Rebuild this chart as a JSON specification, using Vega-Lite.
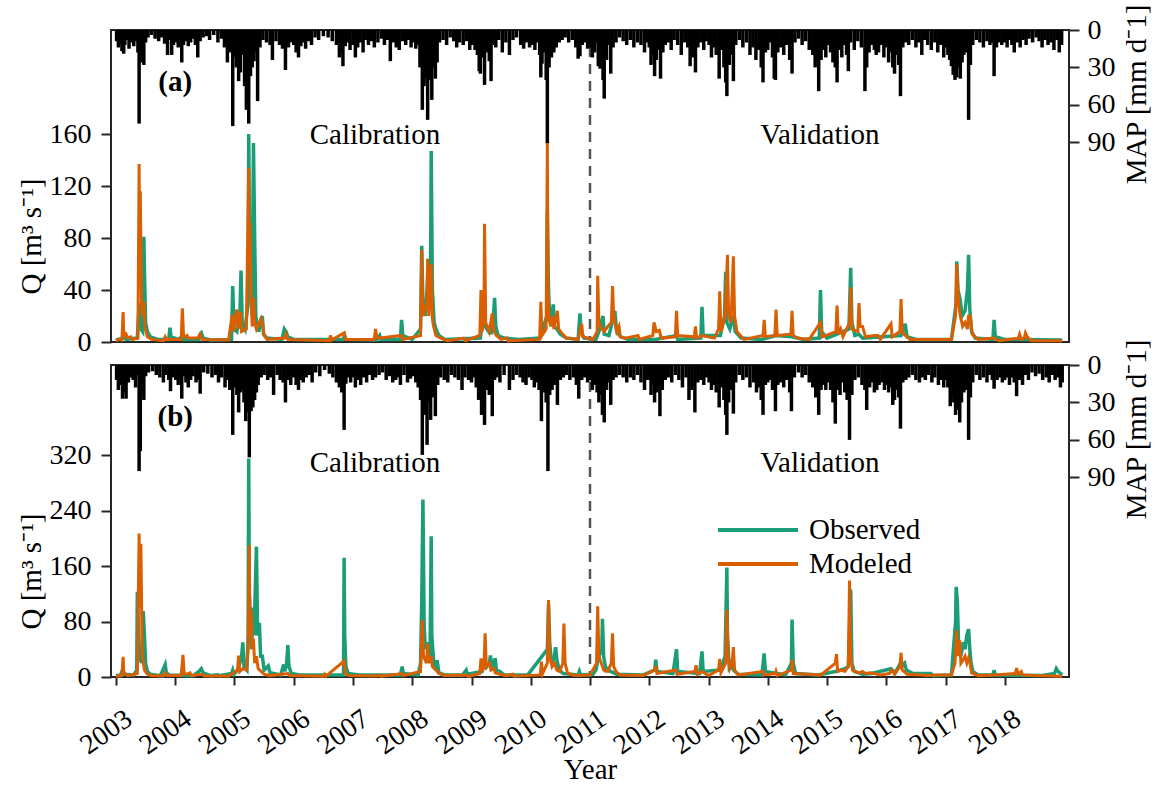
{
"$schema": "https://vega.github.io/schema/vega-lite/v6.json",
"background": "white",
"padding": {"left": 16, "top": 2, "right": 2, "bottom": 0},
"spacing": 23,
"bounds": "flush",
"config": {
 "font": "Liberation Serif",
 "view": {"stroke": "#262626", "strokeWidth": 2},
 "axis": {"labelFont": "Liberation Serif", "titleFont": "Liberation Serif", "labelFontSize": 28, "titleFontSize": 29, "labelColor": "black", "titleColor": "black", "titleFontWeight": "normal", "tickColor": "#262626", "tickWidth": 2, "domain": false, "grid": false, "labelOverlap": false, "labelFlush": false}
},
"resolve": {"scale": {"color": "independent"}, "legend": {"color": "independent"}},
"datasets": {
"pa": [
{"t":2003.01,"p":9},{"t":2003.04,"p":14},{"t":2003.07,"p":11},{"t":2003.10,"p":17},{"t":2003.13,"p":19},{"t":2003.15,"p":12},{"t":2003.18,"p":8},{"t":2003.22,"p":15},{"t":2003.26,"p":10},{"t":2003.30,"p":13},{"t":2003.33,"p":9},{"t":2003.37,"p":18},{"t":2003.39,"p":75},{"t":2003.41,"p":22},{"t":2003.44,"p":26},{"t":2003.47,"p":28},{"t":2003.50,"p":10},{"t":2003.54,"p":6},{"t":2003.60,"p":4},{"t":2003.66,"p":7},{"t":2003.72,"p":9},{"t":2003.77,"p":6},{"t":2003.82,"p":11},{"t":2003.87,"p":20},{"t":2003.91,"p":8},{"t":2003.94,"p":20},{"t":2003.97,"p":12},
{"t":2004.02,"p":10},{"t":2004.05,"p":14},{"t":2004.08,"p":8},{"t":2004.11,"p":26},{"t":2004.14,"p":12},{"t":2004.18,"p":9},{"t":2004.22,"p":13},{"t":2004.26,"p":10},{"t":2004.30,"p":7},{"t":2004.34,"p":12},{"t":2004.38,"p":22},{"t":2004.42,"p":9},{"t":2004.47,"p":6},{"t":2004.53,"p":5},{"t":2004.58,"p":8},{"t":2004.65,"p":4},{"t":2004.72,"p":10},{"t":2004.78,"p":7},{"t":2004.83,"p":14},{"t":2004.88,"p":26},{"t":2004.92,"p":18},{"t":2004.97,"p":77},
{"t":2005.00,"p":22},{"t":2005.03,"p":30},{"t":2005.07,"p":41},{"t":2005.10,"p":34},{"t":2005.13,"p":20},{"t":2005.17,"p":45},{"t":2005.20,"p":64},{"t":2005.22,"p":50},{"t":2005.24,"p":75},{"t":2005.27,"p":37},{"t":2005.30,"p":30},{"t":2005.33,"p":25},{"t":2005.36,"p":18},{"t":2005.39,"p":57},{"t":2005.43,"p":14},{"t":2005.48,"p":8},{"t":2005.54,"p":10},{"t":2005.60,"p":12},{"t":2005.64,"p":24},{"t":2005.70,"p":9},{"t":2005.76,"p":12},{"t":2005.81,"p":15},{"t":2005.86,"p":32},{"t":2005.91,"p":14},{"t":2005.95,"p":10},
{"t":2006.00,"p":12},{"t":2006.04,"p":18},{"t":2006.08,"p":22},{"t":2006.12,"p":13},{"t":2006.16,"p":10},{"t":2006.20,"p":15},{"t":2006.25,"p":9},{"t":2006.30,"p":12},{"t":2006.36,"p":6},{"t":2006.42,"p":8},{"t":2006.50,"p":5},{"t":2006.58,"p":6},{"t":2006.65,"p":9},{"t":2006.72,"p":12},{"t":2006.77,"p":22},{"t":2006.80,"p":18},{"t":2006.83,"p":29},{"t":2006.87,"p":13},{"t":2006.91,"p":10},{"t":2006.95,"p":16},
{"t":2007.00,"p":12},{"t":2007.04,"p":22},{"t":2007.08,"p":14},{"t":2007.12,"p":10},{"t":2007.17,"p":18},{"t":2007.21,"p":8},{"t":2007.26,"p":12},{"t":2007.31,"p":9},{"t":2007.36,"p":14},{"t":2007.42,"p":10},{"t":2007.48,"p":7},{"t":2007.53,"p":12},{"t":2007.58,"p":8},{"t":2007.63,"p":25},{"t":2007.68,"p":10},{"t":2007.73,"p":14},{"t":2007.78,"p":16},{"t":2007.84,"p":9},{"t":2007.89,"p":12},{"t":2007.94,"p":8},{"t":2007.98,"p":14},
{"t":2008.02,"p":10},{"t":2008.06,"p":15},{"t":2008.10,"p":12},{"t":2008.13,"p":30},{"t":2008.17,"p":64},{"t":2008.20,"p":45},{"t":2008.23,"p":38},{"t":2008.26,"p":72},{"t":2008.29,"p":40},{"t":2008.33,"p":56},{"t":2008.36,"p":30},{"t":2008.39,"p":39},{"t":2008.42,"p":26},{"t":2008.46,"p":10},{"t":2008.52,"p":8},{"t":2008.58,"p":12},{"t":2008.64,"p":6},{"t":2008.70,"p":9},{"t":2008.75,"p":14},{"t":2008.80,"p":10},{"t":2008.86,"p":12},{"t":2008.92,"p":9},{"t":2008.97,"p":16},
{"t":2009.02,"p":12},{"t":2009.06,"p":16},{"t":2009.10,"p":20},{"t":2009.13,"p":33},{"t":2009.15,"p":35},{"t":2009.19,"p":22},{"t":2009.22,"p":44},{"t":2009.26,"p":18},{"t":2009.30,"p":25},{"t":2009.33,"p":41},{"t":2009.37,"p":12},{"t":2009.41,"p":14},{"t":2009.46,"p":8},{"t":2009.52,"p":18},{"t":2009.58,"p":10},{"t":2009.64,"p":20},{"t":2009.70,"p":8},{"t":2009.76,"p":6},{"t":2009.83,"p":12},{"t":2009.88,"p":15},{"t":2009.93,"p":10},{"t":2009.98,"p":14},
{"t":2010.03,"p":12},{"t":2010.07,"p":16},{"t":2010.11,"p":10},{"t":2010.15,"p":20},{"t":2010.17,"p":38},{"t":2010.19,"p":27},{"t":2010.23,"p":18},{"t":2010.26,"p":40},{"t":2010.28,"p":91},{"t":2010.31,"p":30},{"t":2010.35,"p":22},{"t":2010.39,"p":18},{"t":2010.43,"p":14},{"t":2010.48,"p":10},{"t":2010.53,"p":8},{"t":2010.58,"p":6},{"t":2010.64,"p":10},{"t":2010.70,"p":8},{"t":2010.76,"p":14},{"t":2010.80,"p":23},{"t":2010.83,"p":21},{"t":2010.87,"p":12},{"t":2010.92,"p":10},{"t":2010.96,"p":15},
{"t":2011.01,"p":14},{"t":2011.04,"p":22},{"t":2011.08,"p":18},{"t":2011.11,"p":10},{"t":2011.14,"p":29},{"t":2011.17,"p":31},{"t":2011.20,"p":16},{"t":2011.22,"p":40},{"t":2011.24,"p":55},{"t":2011.28,"p":24},{"t":2011.31,"p":12},{"t":2011.35,"p":35},{"t":2011.39,"p":14},{"t":2011.44,"p":10},{"t":2011.50,"p":6},{"t":2011.56,"p":9},{"t":2011.62,"p":12},{"t":2011.68,"p":8},{"t":2011.74,"p":14},{"t":2011.80,"p":10},{"t":2011.86,"p":12},{"t":2011.92,"p":18},{"t":2011.96,"p":10},
{"t":2012.00,"p":14},{"t":2012.03,"p":28},{"t":2012.06,"p":20},{"t":2012.09,"p":37},{"t":2012.12,"p":24},{"t":2012.15,"p":16},{"t":2012.19,"p":39},{"t":2012.23,"p":18},{"t":2012.27,"p":12},{"t":2012.32,"p":10},{"t":2012.37,"p":16},{"t":2012.42,"p":8},{"t":2012.48,"p":12},{"t":2012.54,"p":20},{"t":2012.60,"p":10},{"t":2012.65,"p":14},{"t":2012.69,"p":29},{"t":2012.73,"p":22},{"t":2012.78,"p":34},{"t":2012.82,"p":14},{"t":2012.87,"p":10},{"t":2012.92,"p":16},{"t":2012.96,"p":9},
{"t":2013.01,"p":12},{"t":2013.05,"p":22},{"t":2013.09,"p":14},{"t":2013.13,"p":20},{"t":2013.18,"p":39},{"t":2013.22,"p":16},{"t":2013.26,"p":30},{"t":2013.29,"p":42},{"t":2013.31,"p":53},{"t":2013.35,"p":28},{"t":2013.38,"p":20},{"t":2013.42,"p":41},{"t":2013.46,"p":12},{"t":2013.52,"p":8},{"t":2013.58,"p":14},{"t":2013.64,"p":10},{"t":2013.70,"p":20},{"t":2013.75,"p":14},{"t":2013.80,"p":24},{"t":2013.85,"p":16},{"t":2013.89,"p":30},{"t":2013.92,"p":42},{"t":2013.96,"p":18},
{"t":2014.00,"p":16},{"t":2014.04,"p":10},{"t":2014.08,"p":22},{"t":2014.11,"p":39},{"t":2014.13,"p":40},{"t":2014.17,"p":18},{"t":2014.22,"p":14},{"t":2014.27,"p":20},{"t":2014.32,"p":12},{"t":2014.37,"p":24},{"t":2014.41,"p":35},{"t":2014.46,"p":10},{"t":2014.52,"p":7},{"t":2014.58,"p":12},{"t":2014.64,"p":9},{"t":2014.70,"p":16},{"t":2014.76,"p":20},{"t":2014.80,"p":30},{"t":2014.84,"p":26},{"t":2014.86,"p":49},{"t":2014.90,"p":24},{"t":2014.94,"p":16},{"t":2014.98,"p":22},
{"t":2015.02,"p":12},{"t":2015.06,"p":18},{"t":2015.10,"p":26},{"t":2015.14,"p":30},{"t":2015.17,"p":42},{"t":2015.21,"p":16},{"t":2015.25,"p":22},{"t":2015.29,"p":12},{"t":2015.33,"p":20},{"t":2015.36,"p":33},{"t":2015.40,"p":10},{"t":2015.46,"p":16},{"t":2015.52,"p":9},{"t":2015.58,"p":14},{"t":2015.64,"p":49},{"t":2015.67,"p":30},{"t":2015.71,"p":18},{"t":2015.75,"p":12},{"t":2015.80,"p":16},{"t":2015.83,"p":20},{"t":2015.87,"p":18},{"t":2015.92,"p":12},{"t":2015.96,"p":22},
{"t":2016.00,"p":14},{"t":2016.04,"p":26},{"t":2016.08,"p":18},{"t":2016.11,"p":30},{"t":2016.14,"p":35},{"t":2016.18,"p":20},{"t":2016.21,"p":28},{"t":2016.24,"p":53},{"t":2016.28,"p":14},{"t":2016.33,"p":10},{"t":2016.38,"p":12},{"t":2016.44,"p":8},{"t":2016.50,"p":14},{"t":2016.55,"p":10},{"t":2016.60,"p":20},{"t":2016.65,"p":8},{"t":2016.70,"p":12},{"t":2016.76,"p":16},{"t":2016.82,"p":10},{"t":2016.87,"p":18},{"t":2016.92,"p":12},{"t":2016.97,"p":22},
{"t":2017.01,"p":14},{"t":2017.04,"p":20},{"t":2017.07,"p":24},{"t":2017.10,"p":29},{"t":2017.13,"p":36},{"t":2017.16,"p":40},{"t":2017.19,"p":38},{"t":2017.22,"p":30},{"t":2017.25,"p":39},{"t":2017.28,"p":26},{"t":2017.31,"p":20},{"t":2017.35,"p":18},{"t":2017.39,"p":72},{"t":2017.42,"p":28},{"t":2017.46,"p":12},{"t":2017.52,"p":8},{"t":2017.58,"p":10},{"t":2017.64,"p":14},{"t":2017.70,"p":9},{"t":2017.75,"p":12},{"t":2017.79,"p":10},{"t":2017.82,"p":37},{"t":2017.86,"p":14},{"t":2017.90,"p":10},{"t":2017.95,"p":12},
{"t":2018.00,"p":10},{"t":2018.04,"p":14},{"t":2018.08,"p":8},{"t":2018.12,"p":12},{"t":2018.16,"p":18},{"t":2018.21,"p":10},{"t":2018.26,"p":14},{"t":2018.31,"p":8},{"t":2018.36,"p":12},{"t":2018.41,"p":7},{"t":2018.47,"p":10},{"t":2018.53,"p":6},{"t":2018.58,"p":9},{"t":2018.63,"p":14},{"t":2018.68,"p":8},{"t":2018.73,"p":12},{"t":2018.78,"p":10},{"t":2018.83,"p":16},{"t":2018.88,"p":8},{"t":2018.92,"p":18},{"t":2018.96,"p":12}
],
"pb": [
{"t":2003.01,"p":12},{"t":2003.04,"p":20},{"t":2003.07,"p":16},{"t":2003.11,"p":27},{"t":2003.14,"p":22},{"t":2003.17,"p":27},{"t":2003.21,"p":14},{"t":2003.25,"p":10},{"t":2003.29,"p":12},{"t":2003.33,"p":18},{"t":2003.36,"p":8},{"t":2003.39,"p":85},{"t":2003.41,"p":69},{"t":2003.44,"p":22},{"t":2003.47,"p":28},{"t":2003.50,"p":9},{"t":2003.55,"p":6},{"t":2003.62,"p":5},{"t":2003.68,"p":8},{"t":2003.74,"p":10},{"t":2003.80,"p":14},{"t":2003.85,"p":8},{"t":2003.89,"p":12},{"t":2003.92,"p":21},{"t":2003.96,"p":10},
{"t":2004.01,"p":12},{"t":2004.05,"p":16},{"t":2004.08,"p":10},{"t":2004.11,"p":27},{"t":2004.14,"p":9},{"t":2004.18,"p":14},{"t":2004.22,"p":18},{"t":2004.26,"p":12},{"t":2004.30,"p":9},{"t":2004.35,"p":14},{"t":2004.38,"p":12},{"t":2004.42,"p":23},{"t":2004.48,"p":6},{"t":2004.55,"p":7},{"t":2004.62,"p":10},{"t":2004.68,"p":8},{"t":2004.73,"p":14},{"t":2004.78,"p":10},{"t":2004.84,"p":18},{"t":2004.88,"p":12},{"t":2004.92,"p":20},{"t":2004.97,"p":56},
{"t":2005.01,"p":18},{"t":2005.04,"p":24},{"t":2005.07,"p":38},{"t":2005.10,"p":22},{"t":2005.13,"p":20},{"t":2005.16,"p":30},{"t":2005.19,"p":45},{"t":2005.22,"p":38},{"t":2005.25,"p":74},{"t":2005.28,"p":37},{"t":2005.31,"p":34},{"t":2005.34,"p":28},{"t":2005.37,"p":22},{"t":2005.40,"p":16},{"t":2005.45,"p":10},{"t":2005.50,"p":8},{"t":2005.56,"p":12},{"t":2005.61,"p":10},{"t":2005.66,"p":24},{"t":2005.72,"p":8},{"t":2005.77,"p":12},{"t":2005.82,"p":14},{"t":2005.86,"p":30},{"t":2005.91,"p":12},{"t":2005.95,"p":16},
{"t":2006.00,"p":10},{"t":2006.04,"p":16},{"t":2006.08,"p":20},{"t":2006.12,"p":12},{"t":2006.16,"p":14},{"t":2006.21,"p":10},{"t":2006.26,"p":8},{"t":2006.31,"p":14},{"t":2006.37,"p":6},{"t":2006.44,"p":9},{"t":2006.52,"p":4},{"t":2006.60,"p":7},{"t":2006.66,"p":10},{"t":2006.72,"p":14},{"t":2006.77,"p":18},{"t":2006.81,"p":22},{"t":2006.85,"p":52},{"t":2006.88,"p":15},{"t":2006.92,"p":10},{"t":2006.96,"p":14},
{"t":2007.00,"p":10},{"t":2007.04,"p":18},{"t":2007.08,"p":12},{"t":2007.13,"p":16},{"t":2007.18,"p":10},{"t":2007.23,"p":14},{"t":2007.28,"p":8},{"t":2007.33,"p":12},{"t":2007.38,"p":10},{"t":2007.44,"p":8},{"t":2007.50,"p":6},{"t":2007.56,"p":12},{"t":2007.62,"p":9},{"t":2007.67,"p":14},{"t":2007.72,"p":12},{"t":2007.76,"p":10},{"t":2007.80,"p":16},{"t":2007.86,"p":8},{"t":2007.92,"p":14},{"t":2007.97,"p":11},
{"t":2008.02,"p":9},{"t":2008.06,"p":14},{"t":2008.10,"p":18},{"t":2008.14,"p":28},{"t":2008.17,"p":72},{"t":2008.20,"p":40},{"t":2008.23,"p":36},{"t":2008.25,"p":64},{"t":2008.28,"p":30},{"t":2008.31,"p":44},{"t":2008.34,"p":26},{"t":2008.39,"p":41},{"t":2008.43,"p":16},{"t":2008.48,"p":10},{"t":2008.54,"p":12},{"t":2008.60,"p":14},{"t":2008.66,"p":8},{"t":2008.72,"p":10},{"t":2008.78,"p":12},{"t":2008.84,"p":20},{"t":2008.89,"p":10},{"t":2008.95,"p":12},
{"t":2009.00,"p":14},{"t":2009.04,"p":10},{"t":2009.08,"p":18},{"t":2009.12,"p":28},{"t":2009.17,"p":40},{"t":2009.20,"p":30},{"t":2009.22,"p":48},{"t":2009.26,"p":20},{"t":2009.30,"p":24},{"t":2009.35,"p":41},{"t":2009.39,"p":12},{"t":2009.43,"p":10},{"t":2009.48,"p":14},{"t":2009.55,"p":8},{"t":2009.64,"p":20},{"t":2009.70,"p":12},{"t":2009.76,"p":8},{"t":2009.82,"p":10},{"t":2009.87,"p":14},{"t":2009.92,"p":16},{"t":2009.97,"p":10},
{"t":2010.02,"p":12},{"t":2010.06,"p":18},{"t":2010.10,"p":14},{"t":2010.14,"p":20},{"t":2010.18,"p":45},{"t":2010.22,"p":22},{"t":2010.26,"p":30},{"t":2010.29,"p":85},{"t":2010.32,"p":24},{"t":2010.36,"p":20},{"t":2010.40,"p":16},{"t":2010.45,"p":32},{"t":2010.50,"p":12},{"t":2010.55,"p":10},{"t":2010.60,"p":8},{"t":2010.66,"p":12},{"t":2010.72,"p":10},{"t":2010.77,"p":16},{"t":2010.81,"p":27},{"t":2010.86,"p":12},{"t":2010.91,"p":10},{"t":2010.96,"p":14},
{"t":2011.01,"p":12},{"t":2011.04,"p":20},{"t":2011.08,"p":16},{"t":2011.12,"p":22},{"t":2011.15,"p":30},{"t":2011.18,"p":24},{"t":2011.21,"p":40},{"t":2011.24,"p":46},{"t":2011.28,"p":20},{"t":2011.31,"p":14},{"t":2011.35,"p":32},{"t":2011.39,"p":12},{"t":2011.44,"p":10},{"t":2011.50,"p":8},{"t":2011.56,"p":10},{"t":2011.62,"p":14},{"t":2011.68,"p":10},{"t":2011.74,"p":12},{"t":2011.80,"p":8},{"t":2011.86,"p":14},{"t":2011.92,"p":20},{"t":2011.96,"p":12},
{"t":2012.00,"p":12},{"t":2012.03,"p":24},{"t":2012.06,"p":16},{"t":2012.09,"p":30},{"t":2012.13,"p":22},{"t":2012.16,"p":18},{"t":2012.18,"p":41},{"t":2012.22,"p":20},{"t":2012.27,"p":12},{"t":2012.32,"p":10},{"t":2012.38,"p":14},{"t":2012.44,"p":8},{"t":2012.50,"p":12},{"t":2012.56,"p":18},{"t":2012.62,"p":10},{"t":2012.67,"p":28},{"t":2012.72,"p":20},{"t":2012.77,"p":38},{"t":2012.82,"p":14},{"t":2012.87,"p":12},{"t":2012.92,"p":16},{"t":2012.96,"p":10},
{"t":2013.01,"p":14},{"t":2013.05,"p":20},{"t":2013.09,"p":16},{"t":2013.13,"p":22},{"t":2013.18,"p":34},{"t":2013.22,"p":18},{"t":2013.26,"p":28},{"t":2013.29,"p":40},{"t":2013.31,"p":56},{"t":2013.34,"p":30},{"t":2013.38,"p":20},{"t":2013.42,"p":39},{"t":2013.46,"p":14},{"t":2013.52,"p":8},{"t":2013.58,"p":12},{"t":2013.64,"p":10},{"t":2013.70,"p":18},{"t":2013.76,"p":14},{"t":2013.81,"p":22},{"t":2013.86,"p":18},{"t":2013.89,"p":28},{"t":2013.92,"p":40},{"t":2013.96,"p":16},
{"t":2014.00,"p":14},{"t":2014.04,"p":12},{"t":2014.08,"p":20},{"t":2014.13,"p":37},{"t":2014.17,"p":16},{"t":2014.22,"p":14},{"t":2014.27,"p":18},{"t":2014.32,"p":12},{"t":2014.37,"p":22},{"t":2014.40,"p":37},{"t":2014.45,"p":10},{"t":2014.52,"p":6},{"t":2014.58,"p":10},{"t":2014.64,"p":8},{"t":2014.70,"p":14},{"t":2014.76,"p":18},{"t":2014.81,"p":26},{"t":2014.86,"p":40},{"t":2014.90,"p":20},{"t":2014.94,"p":16},{"t":2014.98,"p":20},
{"t":2015.02,"p":14},{"t":2015.06,"p":20},{"t":2015.10,"p":30},{"t":2015.14,"p":47},{"t":2015.18,"p":20},{"t":2015.22,"p":24},{"t":2015.26,"p":14},{"t":2015.30,"p":22},{"t":2015.34,"p":28},{"t":2015.38,"p":60},{"t":2015.42,"p":24},{"t":2015.47,"p":12},{"t":2015.53,"p":10},{"t":2015.59,"p":16},{"t":2015.64,"p":20},{"t":2015.67,"p":36},{"t":2015.72,"p":18},{"t":2015.76,"p":14},{"t":2015.80,"p":22},{"t":2015.84,"p":20},{"t":2015.88,"p":16},{"t":2015.93,"p":14},{"t":2015.97,"p":20},
{"t":2016.01,"p":16},{"t":2016.04,"p":22},{"t":2016.08,"p":18},{"t":2016.11,"p":32},{"t":2016.14,"p":28},{"t":2016.18,"p":20},{"t":2016.21,"p":26},{"t":2016.24,"p":51},{"t":2016.28,"p":14},{"t":2016.33,"p":12},{"t":2016.38,"p":10},{"t":2016.44,"p":8},{"t":2016.50,"p":12},{"t":2016.56,"p":14},{"t":2016.61,"p":10},{"t":2016.66,"p":12},{"t":2016.71,"p":8},{"t":2016.77,"p":14},{"t":2016.82,"p":10},{"t":2016.88,"p":16},{"t":2016.93,"p":12},{"t":2016.97,"p":18},
{"t":2017.01,"p":12},{"t":2017.04,"p":18},{"t":2017.08,"p":33},{"t":2017.11,"p":24},{"t":2017.14,"p":30},{"t":2017.17,"p":40},{"t":2017.20,"p":36},{"t":2017.24,"p":46},{"t":2017.27,"p":30},{"t":2017.31,"p":22},{"t":2017.35,"p":20},{"t":2017.39,"p":60},{"t":2017.42,"p":26},{"t":2017.46,"p":14},{"t":2017.52,"p":8},{"t":2017.58,"p":12},{"t":2017.64,"p":10},{"t":2017.70,"p":14},{"t":2017.75,"p":8},{"t":2017.79,"p":12},{"t":2017.82,"p":19},{"t":2017.87,"p":12},{"t":2017.92,"p":10},{"t":2017.96,"p":14},
{"t":2018.00,"p":12},{"t":2018.04,"p":10},{"t":2018.08,"p":16},{"t":2018.12,"p":10},{"t":2018.16,"p":14},{"t":2018.20,"p":25},{"t":2018.25,"p":12},{"t":2018.30,"p":16},{"t":2018.35,"p":8},{"t":2018.40,"p":12},{"t":2018.46,"p":6},{"t":2018.52,"p":9},{"t":2018.58,"p":7},{"t":2018.64,"p":12},{"t":2018.70,"p":10},{"t":2018.75,"p":14},{"t":2018.80,"p":8},{"t":2018.85,"p":12},{"t":2018.90,"p":10},{"t":2018.94,"p":18},{"t":2018.97,"p":14}
],
"oa": [
{"t":2003.00,"q":1.5},{"t":2003.12,"q":3},{"t":2003.14,"q":5},{"t":2003.17,"q":2},{"t":2003.36,"q":3},{"t":2003.38,"q":20},{"t":2003.40,"q":30},{"t":2003.42,"q":10},{"t":2003.45,"q":8},{"t":2003.46,"q":40},{"t":2003.47,"q":81},{"t":2003.48,"q":55},{"t":2003.50,"q":15},{"t":2003.53,"q":8},{"t":2003.58,"q":4},{"t":2003.70,"q":2},{"t":2003.89,"q":2},{"t":2003.91,"q":11},{"t":2003.93,"q":4},{"t":2004.05,"q":2},{"t":2004.11,"q":4},{"t":2004.13,"q":2},{"t":2004.40,"q":2},{"t":2004.42,"q":6},{"t":2004.44,"q":7},{"t":2004.47,"q":3},{"t":2004.60,"q":1.5},{"t":2004.95,"q":2},{"t":2004.97,"q":43},{"t":2004.99,"q":10},{"t":2005.04,"q":8},{"t":2005.09,"q":20},{"t":2005.11,"q":55},{"t":2005.13,"q":15},{"t":2005.18,"q":10},{"t":2005.23,"q":30},{"t":2005.24,"q":160},{"t":2005.26,"q":40},{"t":2005.28,"q":75},{"t":2005.30,"q":30},{"t":2005.32,"q":153},{"t":2005.34,"q":81},{"t":2005.36,"q":20},{"t":2005.38,"q":14},{"t":2005.41,"q":8},{"t":2005.45,"q":18},{"t":2005.47,"q":20},{"t":2005.49,"q":6},{"t":2005.55,"q":3},{"t":2005.80,"q":2},{"t":2005.84,"q":10},{"t":2005.87,"q":8},{"t":2005.90,"q":4},{"t":2006.00,"q":2},{"t":2006.83,"q":2},{"t":2006.86,"q":5},{"t":2006.88,"q":2},{"t":2007.40,"q":1.5},{"t":2007.45,"q":5},{"t":2007.47,"q":2},{"t":2007.80,"q":2},{"t":2007.82,"q":17},{"t":2007.84,"q":5},{"t":2008.00,"q":2},{"t":2008.14,"q":10},{"t":2008.16,"q":74},{"t":2008.18,"q":30},{"t":2008.22,"q":20},{"t":2008.25,"q":40},{"t":2008.27,"q":64},{"t":2008.29,"q":30},{"t":2008.31,"q":60},{"t":2008.32,"q":147},{"t":2008.34,"q":40},{"t":2008.37,"q":15},{"t":2008.40,"q":10},{"t":2008.45,"q":5},{"t":2008.55,"q":2},{"t":2009.15,"q":3},{"t":2009.21,"q":30},{"t":2009.23,"q":12},{"t":2009.29,"q":8},{"t":2009.31,"q":10},{"t":2009.34,"q":6},{"t":2009.37,"q":20},{"t":2009.39,"q":34},{"t":2009.41,"q":12},{"t":2009.45,"q":5},{"t":2009.55,"q":3},{"t":2009.80,"q":2},{"t":2010.16,"q":3},{"t":2010.27,"q":20},{"t":2010.28,"q":101},{"t":2010.30,"q":40},{"t":2010.32,"q":20},{"t":2010.35,"q":15},{"t":2010.38,"q":29},{"t":2010.40,"q":12},{"t":2010.44,"q":10},{"t":2010.50,"q":6},{"t":2010.60,"q":3},{"t":2010.80,"q":2},{"t":2010.83,"q":22},{"t":2010.85,"q":8},{"t":2010.90,"q":3},{"t":2011.10,"q":2},{"t":2011.15,"q":8},{"t":2011.22,"q":20},{"t":2011.24,"q":6},{"t":2011.32,"q":5},{"t":2011.42,"q":24},{"t":2011.45,"q":8},{"t":2011.52,"q":4},{"t":2011.65,"q":2},{"t":2012.10,"q":2},{"t":2012.46,"q":5},{"t":2012.48,"q":2},{"t":2012.87,"q":3},{"t":2012.89,"q":27},{"t":2012.91,"q":5},{"t":2013.20,"q":5},{"t":2013.27,"q":20},{"t":2013.29,"q":54},{"t":2013.31,"q":15},{"t":2013.36,"q":10},{"t":2013.42,"q":20},{"t":2013.45,"q":8},{"t":2013.55,"q":3},{"t":2013.90,"q":2},{"t":2014.14,"q":5},{"t":2014.41,"q":4},{"t":2014.60,"q":2},{"t":2014.87,"q":3},{"t":2014.89,"q":40},{"t":2014.91,"q":8},{"t":2015.00,"q":3},{"t":2015.17,"q":6},{"t":2015.37,"q":10},{"t":2015.40,"q":57},{"t":2015.42,"q":15},{"t":2015.47,"q":5},{"t":2015.54,"q":6},{"t":2015.60,"q":3},{"t":2016.25,"q":5},{"t":2016.32,"q":14},{"t":2016.35,"q":4},{"t":2016.50,"q":2},{"t":2017.10,"q":2},{"t":2017.18,"q":30},{"t":2017.19,"q":62},{"t":2017.21,"q":40},{"t":2017.25,"q":32},{"t":2017.28,"q":20},{"t":2017.33,"q":24},{"t":2017.37,"q":40},{"t":2017.39,"q":67},{"t":2017.41,"q":25},{"t":2017.44,"q":8},{"t":2017.50,"q":3},{"t":2017.80,"q":2},{"t":2017.82,"q":17},{"t":2017.84,"q":4},{"t":2018.00,"q":2},{"t":2018.97,"q":1.5}
],
"ma": [
{"t":2003.00,"q":1},{"t":2003.05,"q":2},{"t":2003.10,"q":1.5},{"t":2003.12,"q":23},{"t":2003.13,"q":8},{"t":2003.15,"q":5},{"t":2003.17,"q":6},{"t":2003.20,"q":3},{"t":2003.25,"q":4},{"t":2003.28,"q":2},{"t":2003.37,"q":3},{"t":2003.39,"q":137},{"t":2003.40,"q":60},{"t":2003.41,"q":116},{"t":2003.43,"q":30},{"t":2003.45,"q":20},{"t":2003.47,"q":31},{"t":2003.49,"q":10},{"t":2003.51,"q":8},{"t":2003.53,"q":4},{"t":2003.60,"q":2},{"t":2003.80,"q":1},{"t":2003.83,"q":4},{"t":2003.85,"q":2},{"t":2004.10,"q":2},{"t":2004.12,"q":26},{"t":2004.14,"q":5},{"t":2004.17,"q":4},{"t":2004.20,"q":5},{"t":2004.22,"q":3},{"t":2004.38,"q":3},{"t":2004.42,"q":6},{"t":2004.45,"q":2},{"t":2004.90,"q":1.5},{"t":2004.96,"q":21},{"t":2004.98,"q":8},{"t":2005.02,"q":20},{"t":2005.04,"q":25},{"t":2005.06,"q":10},{"t":2005.10,"q":23},{"t":2005.12,"q":8},{"t":2005.20,"q":10},{"t":2005.24,"q":134},{"t":2005.25,"q":60},{"t":2005.26,"q":92},{"t":2005.28,"q":30},{"t":2005.30,"q":12},{"t":2005.32,"q":34},{"t":2005.34,"q":15},{"t":2005.37,"q":10},{"t":2005.45,"q":18},{"t":2005.47,"q":15},{"t":2005.50,"q":5},{"t":2005.55,"q":2},{"t":2005.85,"q":3},{"t":2005.87,"q":6},{"t":2005.90,"q":2},{"t":2006.60,"q":1},{"t":2006.62,"q":5},{"t":2006.64,"q":1.5},{"t":2006.85,"q":7},{"t":2006.87,"q":2},{"t":2007.36,"q":2},{"t":2007.38,"q":10},{"t":2007.40,"q":4},{"t":2007.45,"q":3},{"t":2007.82,"q":5},{"t":2007.84,"q":2},{"t":2008.14,"q":5},{"t":2008.16,"q":71},{"t":2008.18,"q":20},{"t":2008.25,"q":30},{"t":2008.26,"q":64},{"t":2008.28,"q":20},{"t":2008.32,"q":60},{"t":2008.34,"q":18},{"t":2008.36,"q":12},{"t":2008.40,"q":5},{"t":2008.48,"q":3},{"t":2008.60,"q":1},{"t":2008.87,"q":3},{"t":2008.90,"q":1},{"t":2009.14,"q":5},{"t":2009.16,"q":40},{"t":2009.18,"q":8},{"t":2009.21,"q":20},{"t":2009.22,"q":91},{"t":2009.24,"q":15},{"t":2009.30,"q":8},{"t":2009.35,"q":22},{"t":2009.37,"q":10},{"t":2009.42,"q":5},{"t":2009.50,"q":2},{"t":2009.60,"q":3},{"t":2009.62,"q":1},{"t":2010.15,"q":2},{"t":2010.17,"q":31},{"t":2010.19,"q":5},{"t":2010.26,"q":10},{"t":2010.28,"q":153},{"t":2010.29,"q":40},{"t":2010.31,"q":17},{"t":2010.34,"q":12},{"t":2010.37,"q":20},{"t":2010.39,"q":10},{"t":2010.42,"q":17},{"t":2010.45,"q":24},{"t":2010.47,"q":10},{"t":2010.52,"q":7},{"t":2010.60,"q":3},{"t":2010.80,"q":2},{"t":2010.86,"q":14},{"t":2010.88,"q":4},{"t":2011.05,"q":2},{"t":2011.12,"q":8},{"t":2011.13,"q":51},{"t":2011.15,"q":15},{"t":2011.20,"q":10},{"t":2011.24,"q":8},{"t":2011.30,"q":12},{"t":2011.36,"q":15},{"t":2011.38,"q":43},{"t":2011.40,"q":20},{"t":2011.45,"q":8},{"t":2011.49,"q":12},{"t":2011.51,"q":4},{"t":2011.60,"q":3},{"t":2011.81,"q":5},{"t":2011.83,"q":2},{"t":2012.06,"q":5},{"t":2012.08,"q":15},{"t":2012.12,"q":8},{"t":2012.17,"q":9},{"t":2012.20,"q":3},{"t":2012.44,"q":4},{"t":2012.46,"q":24},{"t":2012.48,"q":5},{"t":2012.76,"q":4},{"t":2012.78,"q":12},{"t":2012.80,"q":3},{"t":2012.89,"q":5},{"t":2013.10,"q":3},{"t":2013.17,"q":10},{"t":2013.19,"q":39},{"t":2013.21,"q":8},{"t":2013.28,"q":20},{"t":2013.32,"q":67},{"t":2013.34,"q":20},{"t":2013.38,"q":15},{"t":2013.42,"q":66},{"t":2013.44,"q":20},{"t":2013.48,"q":8},{"t":2013.52,"q":6},{"t":2013.60,"q":2},{"t":2013.92,"q":5},{"t":2013.94,"q":17},{"t":2013.96,"q":4},{"t":2014.12,"q":5},{"t":2014.14,"q":25},{"t":2014.16,"q":5},{"t":2014.39,"q":6},{"t":2014.41,"q":24},{"t":2014.43,"q":5},{"t":2014.50,"q":3},{"t":2014.70,"q":2},{"t":2014.89,"q":15},{"t":2014.92,"q":4},{"t":2015.15,"q":8},{"t":2015.17,"q":28},{"t":2015.19,"q":6},{"t":2015.23,"q":10},{"t":2015.27,"q":4},{"t":2015.38,"q":15},{"t":2015.40,"q":42},{"t":2015.42,"q":10},{"t":2015.52,"q":8},{"t":2015.54,"q":30},{"t":2015.56,"q":12},{"t":2015.60,"q":12},{"t":2015.65,"q":4},{"t":2015.80,"q":5},{"t":2015.86,"q":5},{"t":2015.90,"q":2},{"t":2016.08,"q":14},{"t":2016.10,"q":4},{"t":2016.23,"q":8},{"t":2016.25,"q":33},{"t":2016.27,"q":8},{"t":2016.30,"q":6},{"t":2016.40,"q":2},{"t":2017.10,"q":2},{"t":2017.17,"q":20},{"t":2017.19,"q":60},{"t":2017.22,"q":30},{"t":2017.25,"q":20},{"t":2017.29,"q":12},{"t":2017.33,"q":15},{"t":2017.37,"q":10},{"t":2017.39,"q":20},{"t":2017.42,"q":20},{"t":2017.45,"q":6},{"t":2017.55,"q":2},{"t":2017.82,"q":3},{"t":2017.90,"q":1},{"t":2018.23,"q":3},{"t":2018.25,"q":6},{"t":2018.28,"q":2},{"t":2018.33,"q":3},{"t":2018.35,"q":7},{"t":2018.38,"q":4},{"t":2018.40,"q":3},{"t":2018.45,"q":1},{"t":2018.97,"q":1}
],
"ob": [
{"t":2003.00,"q":2},{"t":2003.08,"q":3},{"t":2003.11,"q":10},{"t":2003.13,"q":4},{"t":2003.30,"q":3},{"t":2003.35,"q":10},{"t":2003.36,"q":123},{"t":2003.38,"q":60},{"t":2003.40,"q":30},{"t":2003.43,"q":20},{"t":2003.45,"q":40},{"t":2003.46,"q":95},{"t":2003.48,"q":60},{"t":2003.50,"q":20},{"t":2003.53,"q":8},{"t":2003.58,"q":4},{"t":2003.75,"q":2},{"t":2003.83,"q":18},{"t":2003.85,"q":6},{"t":2003.90,"q":3},{"t":2004.30,"q":2},{"t":2004.40,"q":8},{"t":2004.44,"q":12},{"t":2004.47,"q":6},{"t":2004.60,"q":2},{"t":2004.72,"q":3},{"t":2004.74,"q":2},{"t":2004.95,"q":5},{"t":2004.97,"q":10},{"t":2004.99,"q":4},{"t":2005.06,"q":10},{"t":2005.12,"q":30},{"t":2005.14,"q":50},{"t":2005.16,"q":15},{"t":2005.21,"q":10},{"t":2005.23,"q":60},{"t":2005.24,"q":315},{"t":2005.25,"q":120},{"t":2005.27,"q":80},{"t":2005.29,"q":40},{"t":2005.31,"q":100},{"t":2005.33,"q":60},{"t":2005.37,"q":188},{"t":2005.39,"q":60},{"t":2005.42,"q":78},{"t":2005.44,"q":30},{"t":2005.47,"q":30},{"t":2005.50,"q":10},{"t":2005.57,"q":16},{"t":2005.60,"q":6},{"t":2005.78,"q":3},{"t":2005.83,"q":18},{"t":2005.85,"q":8},{"t":2005.88,"q":20},{"t":2005.90,"q":46},{"t":2005.92,"q":15},{"t":2005.96,"q":5},{"t":2006.10,"q":3},{"t":2006.84,"q":3},{"t":2006.85,"q":172},{"t":2006.86,"q":60},{"t":2006.88,"q":15},{"t":2006.92,"q":5},{"t":2007.10,"q":3},{"t":2007.80,"q":3},{"t":2007.83,"q":15},{"t":2007.85,"q":5},{"t":2008.10,"q":3},{"t":2008.14,"q":20},{"t":2008.16,"q":108},{"t":2008.18,"q":256},{"t":2008.20,"q":80},{"t":2008.22,"q":40},{"t":2008.26,"q":50},{"t":2008.28,"q":30},{"t":2008.30,"q":30},{"t":2008.32,"q":203},{"t":2008.33,"q":60},{"t":2008.36,"q":24},{"t":2008.39,"q":12},{"t":2008.42,"q":24},{"t":2008.45,"q":6},{"t":2008.55,"q":3},{"t":2008.85,"q":3},{"t":2008.91,"q":10},{"t":2008.93,"q":4},{"t":2009.18,"q":8},{"t":2009.21,"q":20},{"t":2009.25,"q":14},{"t":2009.30,"q":20},{"t":2009.32,"q":31},{"t":2009.35,"q":12},{"t":2009.38,"q":20},{"t":2009.40,"q":27},{"t":2009.42,"q":10},{"t":2009.48,"q":8},{"t":2009.55,"q":3},{"t":2009.95,"q":3},{"t":2010.28,"q":40},{"t":2010.30,"q":105},{"t":2010.32,"q":50},{"t":2010.35,"q":20},{"t":2010.40,"q":30},{"t":2010.42,"q":43},{"t":2010.44,"q":25},{"t":2010.48,"q":10},{"t":2010.55,"q":5},{"t":2010.80,"q":3},{"t":2010.82,"q":8},{"t":2010.84,"q":3},{"t":2011.05,"q":4},{"t":2011.10,"q":10},{"t":2011.15,"q":30},{"t":2011.20,"q":40},{"t":2011.21,"q":84},{"t":2011.23,"q":30},{"t":2011.27,"q":10},{"t":2011.30,"q":12},{"t":2011.35,"q":8},{"t":2011.45,"q":4},{"t":2011.90,"q":3},{"t":2012.09,"q":10},{"t":2012.11,"q":25},{"t":2012.13,"q":8},{"t":2012.40,"q":5},{"t":2012.46,"q":40},{"t":2012.48,"q":8},{"t":2012.85,"q":5},{"t":2012.89,"q":37},{"t":2012.91,"q":8},{"t":2013.20,"q":10},{"t":2013.28,"q":30},{"t":2013.31,"q":158},{"t":2013.32,"q":60},{"t":2013.35,"q":15},{"t":2013.38,"q":20},{"t":2013.42,"q":10},{"t":2013.50,"q":4},{"t":2013.90,"q":3},{"t":2013.94,"q":34},{"t":2013.96,"q":8},{"t":2014.30,"q":3},{"t":2014.40,"q":20},{"t":2014.41,"q":83},{"t":2014.43,"q":20},{"t":2014.47,"q":5},{"t":2014.85,"q":3},{"t":2015.14,"q":8},{"t":2015.30,"q":12},{"t":2015.36,"q":15},{"t":2015.40,"q":126},{"t":2015.42,"q":20},{"t":2015.46,"q":8},{"t":2015.60,"q":4},{"t":2015.75,"q":5},{"t":2016.08,"q":12},{"t":2016.15,"q":6},{"t":2016.24,"q":20},{"t":2016.26,"q":15},{"t":2016.31,"q":20},{"t":2016.34,"q":10},{"t":2016.45,"q":5},{"t":2016.75,"q":5},{"t":2016.80,"q":2},{"t":2017.10,"q":3},{"t":2017.17,"q":80},{"t":2017.18,"q":130},{"t":2017.20,"q":110},{"t":2017.22,"q":50},{"t":2017.26,"q":30},{"t":2017.30,"q":50},{"t":2017.33,"q":40},{"t":2017.36,"q":60},{"t":2017.39,"q":69},{"t":2017.41,"q":40},{"t":2017.43,"q":22},{"t":2017.46,"q":8},{"t":2017.55,"q":3},{"t":2017.80,"q":3},{"t":2017.82,"q":10},{"t":2017.84,"q":3},{"t":2018.60,"q":2},{"t":2018.84,"q":5},{"t":2018.87,"q":12},{"t":2018.90,"q":8},{"t":2018.97,"q":3}
],
"mb": [
{"t":2003.00,"q":1},{"t":2003.10,"q":2},{"t":2003.12,"q":29},{"t":2003.13,"q":8},{"t":2003.16,"q":4},{"t":2003.20,"q":2},{"t":2003.36,"q":5},{"t":2003.39,"q":207},{"t":2003.40,"q":100},{"t":2003.42,"q":192},{"t":2003.44,"q":40},{"t":2003.46,"q":22},{"t":2003.48,"q":10},{"t":2003.52,"q":5},{"t":2003.58,"q":2},{"t":2003.80,"q":1.5},{"t":2003.83,"q":6},{"t":2003.86,"q":2},{"t":2004.10,"q":2},{"t":2004.13,"q":32},{"t":2004.15,"q":5},{"t":2004.19,"q":4},{"t":2004.25,"q":6},{"t":2004.27,"q":2},{"t":2004.44,"q":4},{"t":2004.50,"q":1.5},{"t":2004.90,"q":1.5},{"t":2004.97,"q":5},{"t":2005.05,"q":10},{"t":2005.07,"q":31},{"t":2005.09,"q":8},{"t":2005.14,"q":12},{"t":2005.20,"q":10},{"t":2005.23,"q":40},{"t":2005.25,"q":190},{"t":2005.26,"q":60},{"t":2005.28,"q":96},{"t":2005.30,"q":40},{"t":2005.32,"q":55},{"t":2005.34,"q":20},{"t":2005.37,"q":30},{"t":2005.40,"q":12},{"t":2005.45,"q":8},{"t":2005.50,"q":4},{"t":2005.60,"q":2},{"t":2005.90,"q":5},{"t":2005.93,"q":2},{"t":2006.50,"q":1},{"t":2006.52,"q":4},{"t":2006.54,"q":1},{"t":2006.85,"q":23},{"t":2006.87,"q":5},{"t":2006.92,"q":2},{"t":2007.40,"q":1.5},{"t":2007.45,"q":3},{"t":2007.47,"q":1},{"t":2007.83,"q":5},{"t":2007.85,"q":2},{"t":2008.14,"q":8},{"t":2008.17,"q":82},{"t":2008.19,"q":30},{"t":2008.24,"q":20},{"t":2008.26,"q":48},{"t":2008.28,"q":20},{"t":2008.32,"q":30},{"t":2008.34,"q":15},{"t":2008.40,"q":10},{"t":2008.45,"q":5},{"t":2008.55,"q":2},{"t":2008.90,"q":3},{"t":2008.95,"q":1},{"t":2009.14,"q":5},{"t":2009.16,"q":27},{"t":2009.18,"q":8},{"t":2009.21,"q":15},{"t":2009.23,"q":63},{"t":2009.25,"q":15},{"t":2009.30,"q":20},{"t":2009.33,"q":10},{"t":2009.38,"q":12},{"t":2009.40,"q":6},{"t":2009.48,"q":4},{"t":2009.60,"q":2},{"t":2009.70,"q":4},{"t":2009.72,"q":1},{"t":2010.16,"q":3},{"t":2010.18,"q":22},{"t":2010.20,"q":5},{"t":2010.28,"q":20},{"t":2010.30,"q":111},{"t":2010.32,"q":30},{"t":2010.36,"q":15},{"t":2010.40,"q":20},{"t":2010.44,"q":10},{"t":2010.49,"q":8},{"t":2010.54,"q":20},{"t":2010.56,"q":77},{"t":2010.58,"q":20},{"t":2010.62,"q":6},{"t":2010.70,"q":3},{"t":2010.80,"q":2},{"t":2011.00,"q":3},{"t":2011.11,"q":20},{"t":2011.13,"q":102},{"t":2011.15,"q":30},{"t":2011.19,"q":20},{"t":2011.23,"q":10},{"t":2011.30,"q":8},{"t":2011.36,"q":20},{"t":2011.38,"q":63},{"t":2011.40,"q":15},{"t":2011.44,"q":8},{"t":2011.50,"q":3},{"t":2011.90,"q":2},{"t":2012.09,"q":10},{"t":2012.11,"q":16},{"t":2012.13,"q":5},{"t":2012.45,"q":10},{"t":2012.47,"q":4},{"t":2012.77,"q":8},{"t":2012.79,"q":17},{"t":2012.81,"q":4},{"t":2012.89,"q":8},{"t":2013.00,"q":2},{"t":2013.17,"q":10},{"t":2013.19,"q":26},{"t":2013.21,"q":6},{"t":2013.29,"q":20},{"t":2013.31,"q":97},{"t":2013.33,"q":30},{"t":2013.36,"q":12},{"t":2013.40,"q":20},{"t":2013.42,"q":43},{"t":2013.44,"q":10},{"t":2013.50,"q":3},{"t":2013.92,"q":8},{"t":2013.94,"q":3},{"t":2014.13,"q":5},{"t":2014.14,"q":8},{"t":2014.16,"q":2},{"t":2014.40,"q":10},{"t":2014.41,"q":25},{"t":2014.43,"q":5},{"t":2014.90,"q":3},{"t":2015.14,"q":20},{"t":2015.16,"q":33},{"t":2015.18,"q":8},{"t":2015.25,"q":10},{"t":2015.30,"q":8},{"t":2015.36,"q":15},{"t":2015.38,"q":139},{"t":2015.40,"q":30},{"t":2015.43,"q":10},{"t":2015.47,"q":8},{"t":2015.55,"q":6},{"t":2015.60,"q":8},{"t":2015.65,"q":5},{"t":2015.73,"q":6},{"t":2015.80,"q":5},{"t":2015.90,"q":3},{"t":2016.05,"q":5},{"t":2016.10,"q":10},{"t":2016.14,"q":4},{"t":2016.23,"q":15},{"t":2016.25,"q":35},{"t":2016.27,"q":10},{"t":2016.30,"q":8},{"t":2016.35,"q":4},{"t":2016.60,"q":3},{"t":2016.70,"q":2},{"t":2016.92,"q":3},{"t":2017.10,"q":3},{"t":2017.16,"q":20},{"t":2017.19,"q":67},{"t":2017.21,"q":30},{"t":2017.24,"q":53},{"t":2017.26,"q":20},{"t":2017.30,"q":25},{"t":2017.33,"q":30},{"t":2017.36,"q":20},{"t":2017.39,"q":28},{"t":2017.41,"q":22},{"t":2017.44,"q":6},{"t":2017.55,"q":2},{"t":2017.82,"q":3},{"t":2018.18,"q":5},{"t":2018.20,"q":13},{"t":2018.22,"q":4},{"t":2018.28,"q":8},{"t":2018.30,"q":3},{"t":2018.50,"q":2},{"t":2018.97,"q":1}
]
},
"vconcat": [
{
 "width": 958, "height": 312,
 "resolve": {"scale": {"y": "independent"}},
 "layer": [
  {"data": {"values": [{}]}, "mark": {"type": "rule", "color": "#555555", "strokeWidth": 2.5, "strokeDash": [10, 7]},
   "encoding": {"x": {"datum": 2011, "type": "quantitative", "scale": {"domain": [2003, 2019], "nice": false, "zero": false}, "axis": null}}},
  {"data": {"name": "pa"}, "mark": {"type": "bar", "color": "black", "size": 3.5},
   "encoding": {
    "x": {"field": "t", "type": "quantitative", "scale": {"domain": [2003, 2019], "nice": false, "zero": false}, "axis": null},
    "y": {"field": "p", "type": "quantitative", "scale": {"domain": [0, 250], "reverse": true, "nice": false}, "axis": {"orient": "right", "values": [0, 30, 60, 90], "title": "MAP [mm d⁻1]", "titleAngle": 270, "titleX": 67, "titleY": 64, "titleAlign": "center", "titleBaseline": "middle", "tickSize": 10, "labelPadding": 8}}}},
  {"layer": [
    {"data": {"name": "oa"}, "mark": {"type": "line", "strokeWidth": 3.5},
     "encoding": {
      "x": {"field": "t", "type": "quantitative", "scale": {"domain": [2003, 2019], "nice": false, "zero": false}, "axis": null},
      "y": {"field": "q", "type": "quantitative", "scale": {"domain": [0, 240], "nice": false}, "axis": {"values": [0, 40, 80, 120, 160], "title": "Q [m³ s⁻¹]", "titleAngle": 270, "titleX": -80, "titleY": 206, "titleAlign": "center", "titleBaseline": "middle", "tickSize": 10, "labelPadding": 10}},
      "color": {"datum": "Observed", "scale": {"domain": ["Observed", "Modeled"], "range": ["#1b9e77", "#d95f02"]}, "legend": null}}},
    {"data": {"name": "ma"}, "mark": {"type": "line", "strokeWidth": 3},
     "encoding": {
      "x": {"field": "t", "type": "quantitative"},
      "y": {"field": "q", "type": "quantitative"},
      "color": {"datum": "Modeled", "legend": null}}},
    {"data": {"values": [{}]}, "mark": {"type": "text", "text": "(a)", "font": "Liberation Serif", "fontSize": 29, "fontWeight": "bold", "align": "center", "baseline": "middle"},
     "encoding": {"x": {"datum": 2004.0, "type": "quantitative"}, "y": {"datum": 200, "type": "quantitative"}}},
    {"data": {"values": [{}]}, "mark": {"type": "text", "text": "Calibration", "font": "Liberation Serif", "fontSize": 29, "align": "center", "baseline": "middle"},
     "encoding": {"x": {"datum": 2007.37, "type": "quantitative"}, "y": {"datum": 159, "type": "quantitative"}}},
    {"data": {"values": [{}]}, "mark": {"type": "text", "text": "Validation", "font": "Liberation Serif", "fontSize": 29, "align": "center", "baseline": "middle"},
     "encoding": {"x": {"datum": 2014.88, "type": "quantitative"}, "y": {"datum": 159, "type": "quantitative"}}}
  ]}
 ]
},
{
 "width": 958, "height": 312,
 "resolve": {"scale": {"y": "independent"}},
 "layer": [
  {"data": {"values": [{}]}, "mark": {"type": "rule", "color": "#555555", "strokeWidth": 2.5, "strokeDash": [10, 7]},
   "encoding": {"x": {"datum": 2011, "type": "quantitative", "scale": {"domain": [2003, 2019], "nice": false, "zero": false}}}},
  {"data": {"name": "pb"}, "mark": {"type": "bar", "color": "black", "size": 3.5},
   "encoding": {
    "x": {"field": "t", "type": "quantitative", "scale": {"domain": [2003, 2019], "nice": false, "zero": false},
      "axis": {"values": [2003, 2004, 2005, 2006, 2007, 2008, 2009, 2010, 2011, 2012, 2013, 2014, 2015, 2016, 2017, 2018], "format": "d", "title": "Year", "labelAngle": -35, "labelAlign": "right", "labelBaseline": "middle", "labelOffset": 13, "labelPadding": 31, "tickSize": 8, "titlePadding": -4}},
    "y": {"field": "p", "type": "quantitative", "scale": {"domain": [0, 250], "reverse": true, "nice": false}, "axis": {"orient": "right", "values": [0, 30, 60, 90], "title": "MAP [mm d⁻1]", "titleAngle": 270, "titleX": 67, "titleY": 64, "titleAlign": "center", "titleBaseline": "middle", "tickSize": 10, "labelPadding": 8}}}},
  {"layer": [
    {"data": {"name": "ob"}, "mark": {"type": "line", "strokeWidth": 3.5},
     "encoding": {
      "x": {"field": "t", "type": "quantitative", "scale": {"domain": [2003, 2019], "nice": false, "zero": false}},
      "y": {"field": "q", "type": "quantitative", "scale": {"domain": [0, 450], "nice": false}, "axis": {"values": [0, 80, 160, 240, 320], "title": "Q [m³ s⁻¹]", "titleAngle": 270, "titleX": -80, "titleY": 206, "titleAlign": "center", "titleBaseline": "middle", "tickSize": 10, "labelPadding": 10}},
      "color": {"datum": "Observed", "scale": {"domain": ["Observed", "Modeled"], "range": ["#1b9e77", "#d95f02"]},
        "legend": {"orient": "none", "legendX": 605, "legendY": 150, "title": null, "symbolType": "stroke", "symbolSize": 6400, "symbolStrokeWidth": 4, "clipHeight": 30, "rowPadding": 4, "labelFont": "Liberation Serif", "labelFontSize": 29, "labelColor": "black", "labelOffset": 9}}}},
    {"data": {"name": "mb"}, "mark": {"type": "line", "strokeWidth": 3},
     "encoding": {
      "x": {"field": "t", "type": "quantitative"},
      "y": {"field": "q", "type": "quantitative"},
      "color": {"datum": "Modeled"}}},
    {"data": {"values": [{}]}, "mark": {"type": "text", "text": "(b)", "font": "Liberation Serif", "fontSize": 29, "fontWeight": "bold", "align": "center", "baseline": "middle"},
     "encoding": {"x": {"datum": 2004.0, "type": "quantitative"}, "y": {"datum": 375, "type": "quantitative"}}},
    {"data": {"values": [{}]}, "mark": {"type": "text", "text": "Calibration", "font": "Liberation Serif", "fontSize": 29, "align": "center", "baseline": "middle"},
     "encoding": {"x": {"datum": 2007.37, "type": "quantitative"}, "y": {"datum": 309, "type": "quantitative"}}},
    {"data": {"values": [{}]}, "mark": {"type": "text", "text": "Validation", "font": "Liberation Serif", "fontSize": 29, "align": "center", "baseline": "middle"},
     "encoding": {"x": {"datum": 2014.88, "type": "quantitative"}, "y": {"datum": 309, "type": "quantitative"}}}
  ]}
 ]
}
]
}
